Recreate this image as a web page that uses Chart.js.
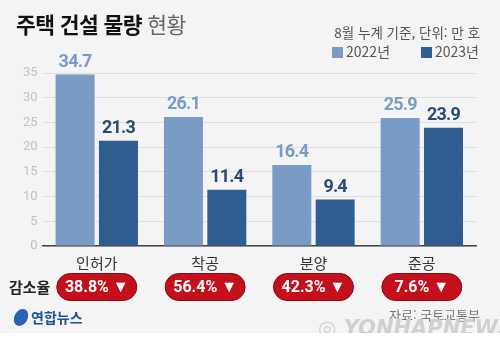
<!DOCTYPE html>
<html lang="ko">
<head>
<meta charset="UTF-8">
<title>주택 건설 물량 현황</title>
<script src="https://cdn.jsdelivr.net/npm/chart.js@4.4.0/dist/chart.umd.min.js"></script>
<style>
  body { margin: 0; background: #f4f4f4; font-family: "Noto Sans CJK KR", "Noto Sans", sans-serif; }
  .wrap { position: relative; width: 500px; height: 338px; overflow: hidden; background: #f4f4f4; }
  canvas { position: absolute; left: 0; top: 0; }
  .title { position: absolute; left: 16px; top: 8px; font-size: 21.5px; letter-spacing: -0.6px; color: #111; font-weight: 700; white-space: nowrap; }
  .title span { font-weight: 400; color: #666; }
  .sub { position: absolute; right: 20px; top: 22px; font-size: 13.5px; color: #555; white-space: nowrap; }
  .legend { position: absolute; right: 21px; top: 41px; font-size: 14px; color: #555; white-space: nowrap; }
  .legend i { display: inline-block; width: 11px; height: 11px; margin: 0 3px 0 0; vertical-align: -1px; }
  .legend b { font-weight: 400; margin-right: 31px; }
  .legend b:last-child { margin-right: 0; }
  .logo { position: absolute; left: 14px; top: 307px; font-size: 14px; font-weight: 700; color: #1d4f9f; white-space: nowrap; }
  .logo i { display: inline-block; width: 14px; height: 17px; border-radius: 50%; background: #2a62b5; vertical-align: -3px; margin-right: 3px; transform: skewX(-12deg); }
  .src { position: absolute; right: 20px; top: 305px; font-size: 13px; color: #777; white-space: nowrap; }
  .wm { position: absolute; left: 318px; top: 316px; font-size: 21px; font-weight: 700; font-style: italic; color: #d0d0d0; font-family: "DejaVu Sans", sans-serif; white-space: nowrap; }
  .foot { position: absolute; left: 0; top: 333px; width: 500px; height: 5px; background: #fff; }
</style>
</head>
<body>
<div class="wrap">
  <canvas id="chart" width="500" height="338"></canvas>
  <div class="title">주택 건설 물량 <span>현황</span></div>
  <div class="sub">8월 누계 기준, 단위: 만 호</div>
  <div class="legend" id="legend"></div>
  <div class="logo"><i></i>연합뉴스</div>
  <div class="src">자료: 국토교통부</div>
  <div class="wm">◎ YONHAPNEWS</div>
  <div class="foot"></div>
</div>
<script>
// data
const categories = ['인허가', '착공', '분양', '준공'];
const seriesNames = ['2022년', '2023년'];
const values2022 = [34.7, 26.1, 16.4, 25.9];
const values2023 = [21.3, 11.4, 9.4, 23.9];
const declineRates = ['38.8%', '56.4%', '42.3%', '7.6%'];
const yMin = 0, yMax = 35, yStep = 5;

const barColors = ['#7a9bc6', '#2f5d91'];
const labelColors = ['#7a9bc6', '#2b4b75'];

// legend
document.getElementById('legend').innerHTML = seriesNames.map(function (n, i) {
  return '<b><i style="background:' + barColors[i] + '"></i>' + n + '</b>';
}).join('');

// value labels above bars
const valueLabels = {
  id: 'valueLabels',
  afterDatasetsDraw(chart) {
    const ctx = chart.ctx;
    ctx.save();
    ctx.font = 'bold 18px Roboto, sans-serif';
    ctx.letterSpacing = '-0.8px';
    ctx.textAlign = 'center';
    ctx.textBaseline = 'bottom';
    chart.data.datasets.forEach(function (ds, i) {
      chart.getDatasetMeta(i).data.forEach(function (bar, j) {
        ctx.fillStyle = labelColors[i];
        ctx.fillText(ds.data[j].toFixed(1), bar.x, bar.y - 3);
      });
    });
    ctx.restore();
  }
};

// decline rate pills
const declineRow = {
  id: 'declineRow',
  afterDraw(chart) {
    const ctx = chart.ctx;
    const x = chart.scales.x;
    const cy = 287, h = 27, w = 80;
    ctx.save();
    ctx.font = 'bold 15px "Noto Sans CJK KR", sans-serif';
    ctx.fillStyle = '#222';
    ctx.textAlign = 'left';
    ctx.textBaseline = 'middle';
    ctx.fillText('감소율', 9, cy);
    declineRates.forEach(function (r, i) {
      const cx = x.getPixelForValue(i);
      ctx.beginPath();
      ctx.roundRect(cx - w / 2, cy - h / 2, w, h, h / 2);
      ctx.fillStyle = '#c3101c';
      ctx.fill();
      ctx.lineWidth = 1;
      ctx.strokeStyle = '#8a0a12';
      ctx.stroke();
      ctx.fillStyle = '#fff';
      ctx.textAlign = 'center';
      ctx.font = 'bold 16px Roboto, sans-serif';
      ctx.fillText(r + ' ▼', cx, cy + 1);
    });
    ctx.restore();
  }
};

new Chart(document.getElementById('chart'), {
  type: 'bar',
  data: {
    labels: categories,
    datasets: [
      { label: seriesNames[0], data: values2022, backgroundColor: barColors[0] },
      { label: seriesNames[1], data: values2023, backgroundColor: barColors[1] }
    ]
  },
  options: {
    responsive: false,
    animation: false,
    devicePixelRatio: 1,
    layout: { padding: { top: 73, right: 24, bottom: 58, left: 18 } },
    plugins: { legend: { display: false }, tooltip: { enabled: false } },
    scales: {
      x: {
        grid: { display: false, drawTicks: false },
        border: { color: '#444', width: 1.5 },
        ticks: { color: '#333', padding: 8, font: { size: 15, family: '"Noto Sans CJK KR", sans-serif' } }
      },
      y: {
        min: yMin, max: yMax,
        border: { display: false },
        grid: { color: '#dedede', drawTicks: false },
        ticks: { stepSize: yStep, color: '#c2c2c2', padding: 5, font: { size: 13, family: 'Roboto, sans-serif' } }
      }
    }
  },
  plugins: [valueLabels, declineRow]
});
</script>
</body>
</html>
